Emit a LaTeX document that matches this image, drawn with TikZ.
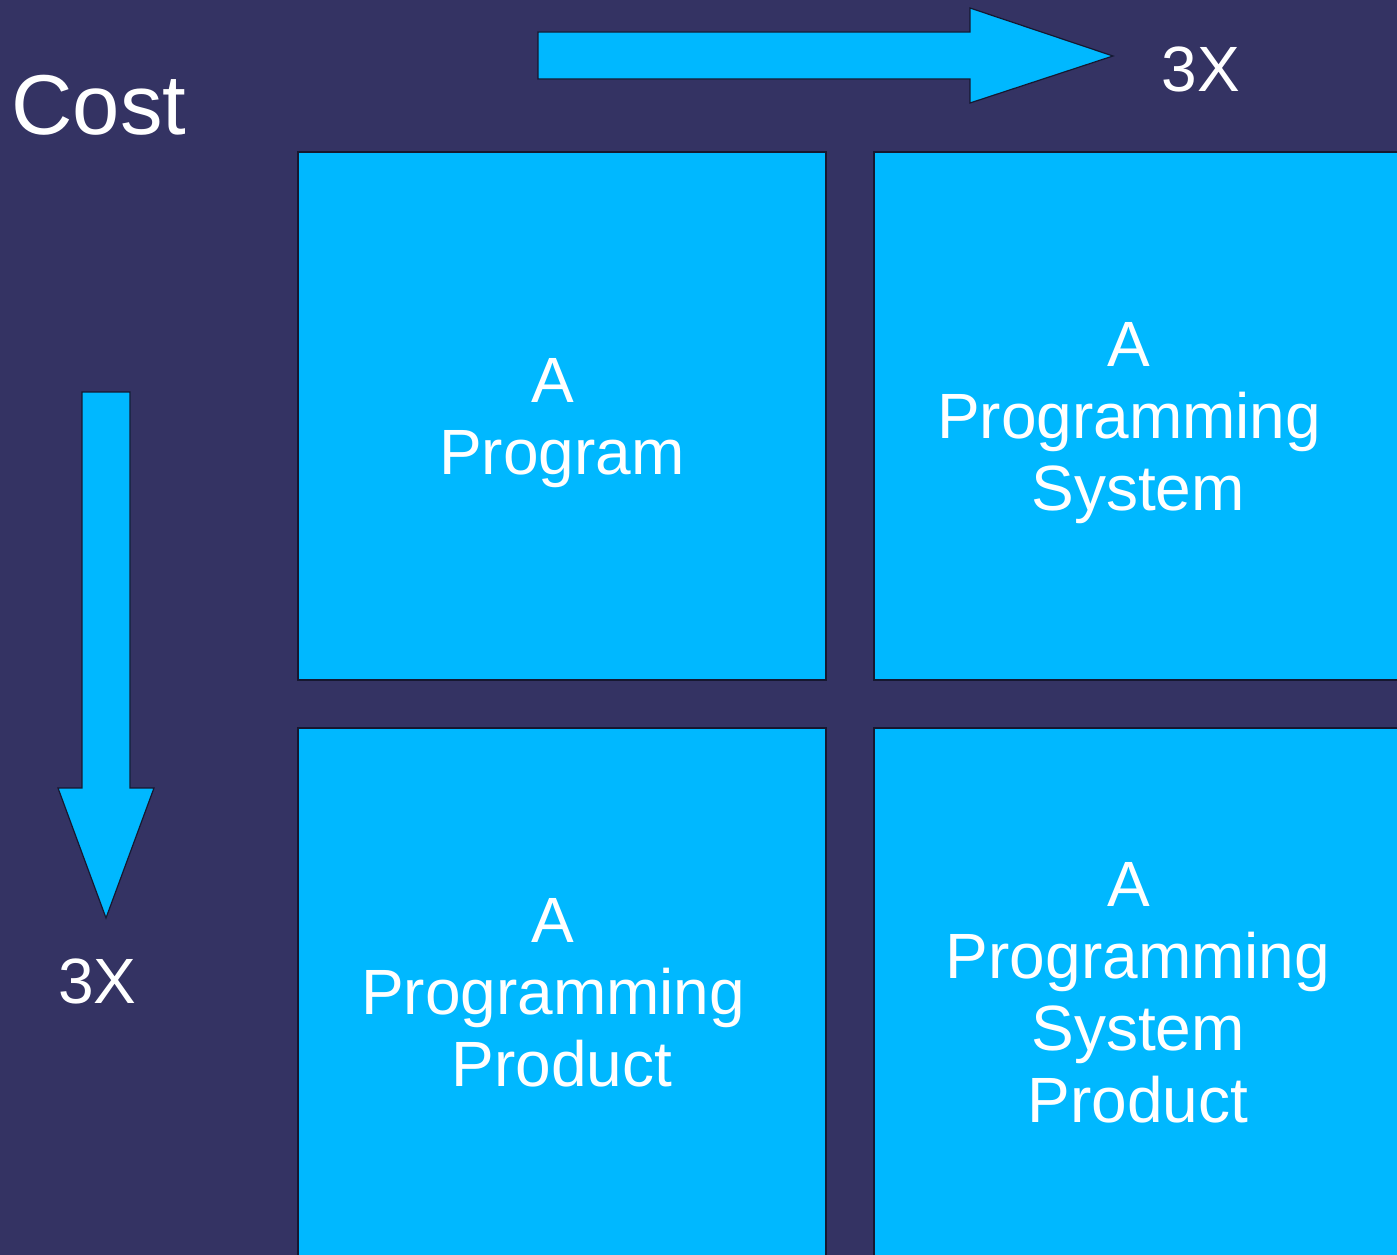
\documentclass[tikz,border=0pt]{standalone}
\usepackage{fontspec}
\setmainfont{Liberation Sans}
\definecolor{navybg}{RGB}{52,51,99}
\definecolor{skyfill}{RGB}{0,184,255}
\definecolor{edgeline}{RGB}{22,24,48}
\newcommand{\lstrut}{\rule[-0.212em]{0pt}{1.117em}}
\newcommand{\tsp}{\kern0.278em}

\begin{document}
\begin{tikzpicture}[x=1pt,y=-1pt,
    cell/.style={draw=edgeline,line width=1.2pt,fill=skyfill,
        minimum width=528pt,minimum height=528pt,inner sep=0pt,
        align=center,text=white,font=\fontsize{64}{72}\selectfont,
        execute at end node=\lstrut},
    blockarrow/.style={draw=edgeline,line width=1.2pt,fill=skyfill},
    axislabel/.style={text=white,inner sep=0pt,anchor=base}]
    \useasboundingbox (0,0) rectangle (1397,1255);
    \clip (0,0) rectangle (1397,1255);
    \fill[navybg] (0,0) rectangle (1397,1255);
    \draw[blockarrow] (538,32) -- (970,32) -- (970,8) -- (1113,56)
        -- (970,103) -- (970,79) -- (538,79) -- cycle;
    \draw[blockarrow] (82,392) -- (82,788) -- (58,788) -- (106,918)
        -- (154,788) -- (130,788) -- (130,392) -- cycle;
    \node[axislabel,font=\fontsize{85}{96}\selectfont] (cost) at (99,134) {Cost};
    \node[axislabel,font=\fontsize{64}{72}\selectfont] (topx) at (1201,91) {3X};
    \node[axislabel,font=\fontsize{64}{72}\selectfont] (leftx) at (97.5,1003) {3X};
    \node[cell] (prog) at (562,416) {\lstrut A\tsp\\Program};
    \node[cell] (sys) at (1138,416) {\lstrut A\tsp\\Programming\tsp\\System};
    \node[cell] (prod) at (562,992) {\lstrut A\tsp\\Programming\tsp\\Product};
    \node[cell] (sysprod) at (1138,992) {\lstrut A\tsp\\Programming\\System\\Product};
\end{tikzpicture}
\end{document}
